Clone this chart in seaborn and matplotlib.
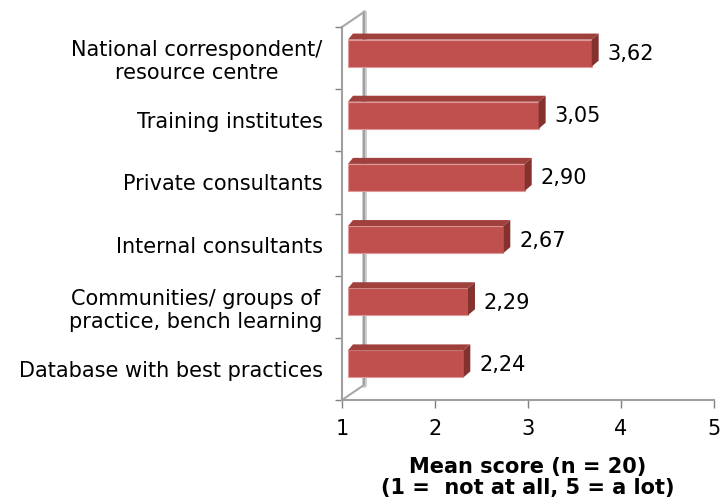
import numpy as np
import seaborn as sns
import matplotlib.pyplot as plt
from matplotlib.lines import Line2D
from matplotlib.patches import Polygon
from matplotlib.transforms import ScaledTranslation, IdentityTransform

# data
categories = [
    "National correspondent/\nresource centre",
    "Training institutes",
    "Private consultants",
    "Internal consultants",
    "Communities/ groups of\npractice, bench learning",
    "Database with best practices",
]
scores = [3.62, 3.05, 2.90, 2.67, 2.29, 2.24]
xticks = [1, 2, 3, 4, 5]

sns.set_style("white")
plt.rcParams["font.family"] = ["DejaVu Sans"]
plt.rcParams["text.color"] = "black"
plt.rcParams["xtick.color"] = "black"
plt.rcParams["ytick.color"] = "black"

DPI = 100
fig = plt.figure(figsize=(7.2, 4.99), dpi=DPI)
ax = fig.add_axes([342 / 720, 99 / 499, 372 / 720, 373 / 499])
ax.patch.set_visible(False)

sns.barplot(x=scores, y=categories, orient="h", color="#C0504D",
            width=0.435, saturation=1, ax=ax)

ax.set_xlim(1, 5)
ax.set_ylim(len(categories) - 0.5, -0.5)

# pseudo 3-D: bar front face sits a bit behind the front plane
face_dx, face_dy = 6, 5   # pixels
depth_dx, depth_dy = 7, 6
shift = ScaledTranslation(face_dx / DPI, face_dy / DPI, fig.dpi_scale_trans)

for patch, v in zip(ax.patches, scores):
    patch.set_x(1)
    patch.set_width(v - 1)
    patch.set_clip_on(False)
    patch.set_transform(ax.transData + shift)
    patch.set_edgecolor("#DE9A98")
    patch.set_linewidth(0.8)

fig.canvas.draw()
for patch, v in zip(ax.patches, scores):
    y0 = patch.get_y()
    y1 = y0 + patch.get_height()
    (xa, ya), (xb, yb) = (ax.transData + shift).transform([(1, y1), (v, y0)])
    bot, top = min(ya, yb), max(ya, yb)
    top_face = Polygon([(xa, top), (xb, top), (xb + depth_dx, top + depth_dy),
                        (xa + depth_dx - 2, top + depth_dy)],
                       closed=True, facecolor="#A0403D", edgecolor="none",
                       transform=IdentityTransform())
    side_face = Polygon([(xb, bot), (xb, top), (xb + depth_dx, top + depth_dy),
                         (xb + depth_dx, bot + depth_dy)],
                        closed=True, facecolor="#85322F", edgecolor="none",
                        transform=IdentityTransform())
    fig.add_artist(top_face)
    fig.add_artist(side_face)

# value labels
for i, v in enumerate(scores):
    ax.annotate(f"{v:.2f}".replace(".", ","), xy=(v, i), xytext=(22, 4),
                textcoords="offset pixels", va="center", ha="left",
                fontsize=15, color="black", annotation_clip=False)

# walls / frame
for s in ["top", "right"]:
    ax.spines[s].set_visible(False)
for s in ["left", "bottom"]:
    ax.spines[s].set_color("#A0A0A0")
    ax.spines[s].set_linewidth(1.5)

(lx, by), (_, ty) = ax.transAxes.transform([(0, 0), (0, 1)])
wall_dx, wall_dy = 22, 15
for lw, col in [(3.5, "#CFCFCF"), (1.5, "#A0A0A0")]:
    fig.add_artist(Line2D([lx + wall_dx, lx + wall_dx], [by + wall_dy, ty + wall_dy],
                          color=col, lw=lw, zorder=-1, transform=IdentityTransform()))
fig.add_artist(Line2D([lx, lx + wall_dx], [ty, ty + wall_dy],
                      color="#A8A8A8", lw=1.5, zorder=-1, transform=IdentityTransform()))
fig.add_artist(Line2D([lx, lx + wall_dx], [by, by + wall_dy],
                      color="#A8A8A8", lw=1.5, zorder=-1, transform=IdentityTransform()))

# ticks
ax.set_xticks(xticks)
ax.set_xticklabels([str(t) for t in xticks])
ax.tick_params(axis="x", bottom=True, length=6, width=1, color="#808080",
               labelsize=15, labelcolor="black", pad=8)
ax.set_yticks(np.arange(len(categories) + 1) - 0.5, minor=True)
ax.tick_params(axis="y", which="minor", left=True, length=5, width=1,
               color="#808080")
ax.tick_params(axis="y", which="major", left=False, length=0, labelsize=15,
               labelcolor="black", pad=14)
for lab in ax.get_yticklabels():
    lab.set_multialignment("center")
    lab.set_linespacing(1.2)

ax.set_ylabel("")
ax.set_xlabel("Mean score (n = 20)\n(1 =  not at all, 5 = a lot)",
              fontsize=15, fontweight="bold", color="black", labelpad=13,
              linespacing=1.05)

fig.savefig("out.png", dpi=DPI)
